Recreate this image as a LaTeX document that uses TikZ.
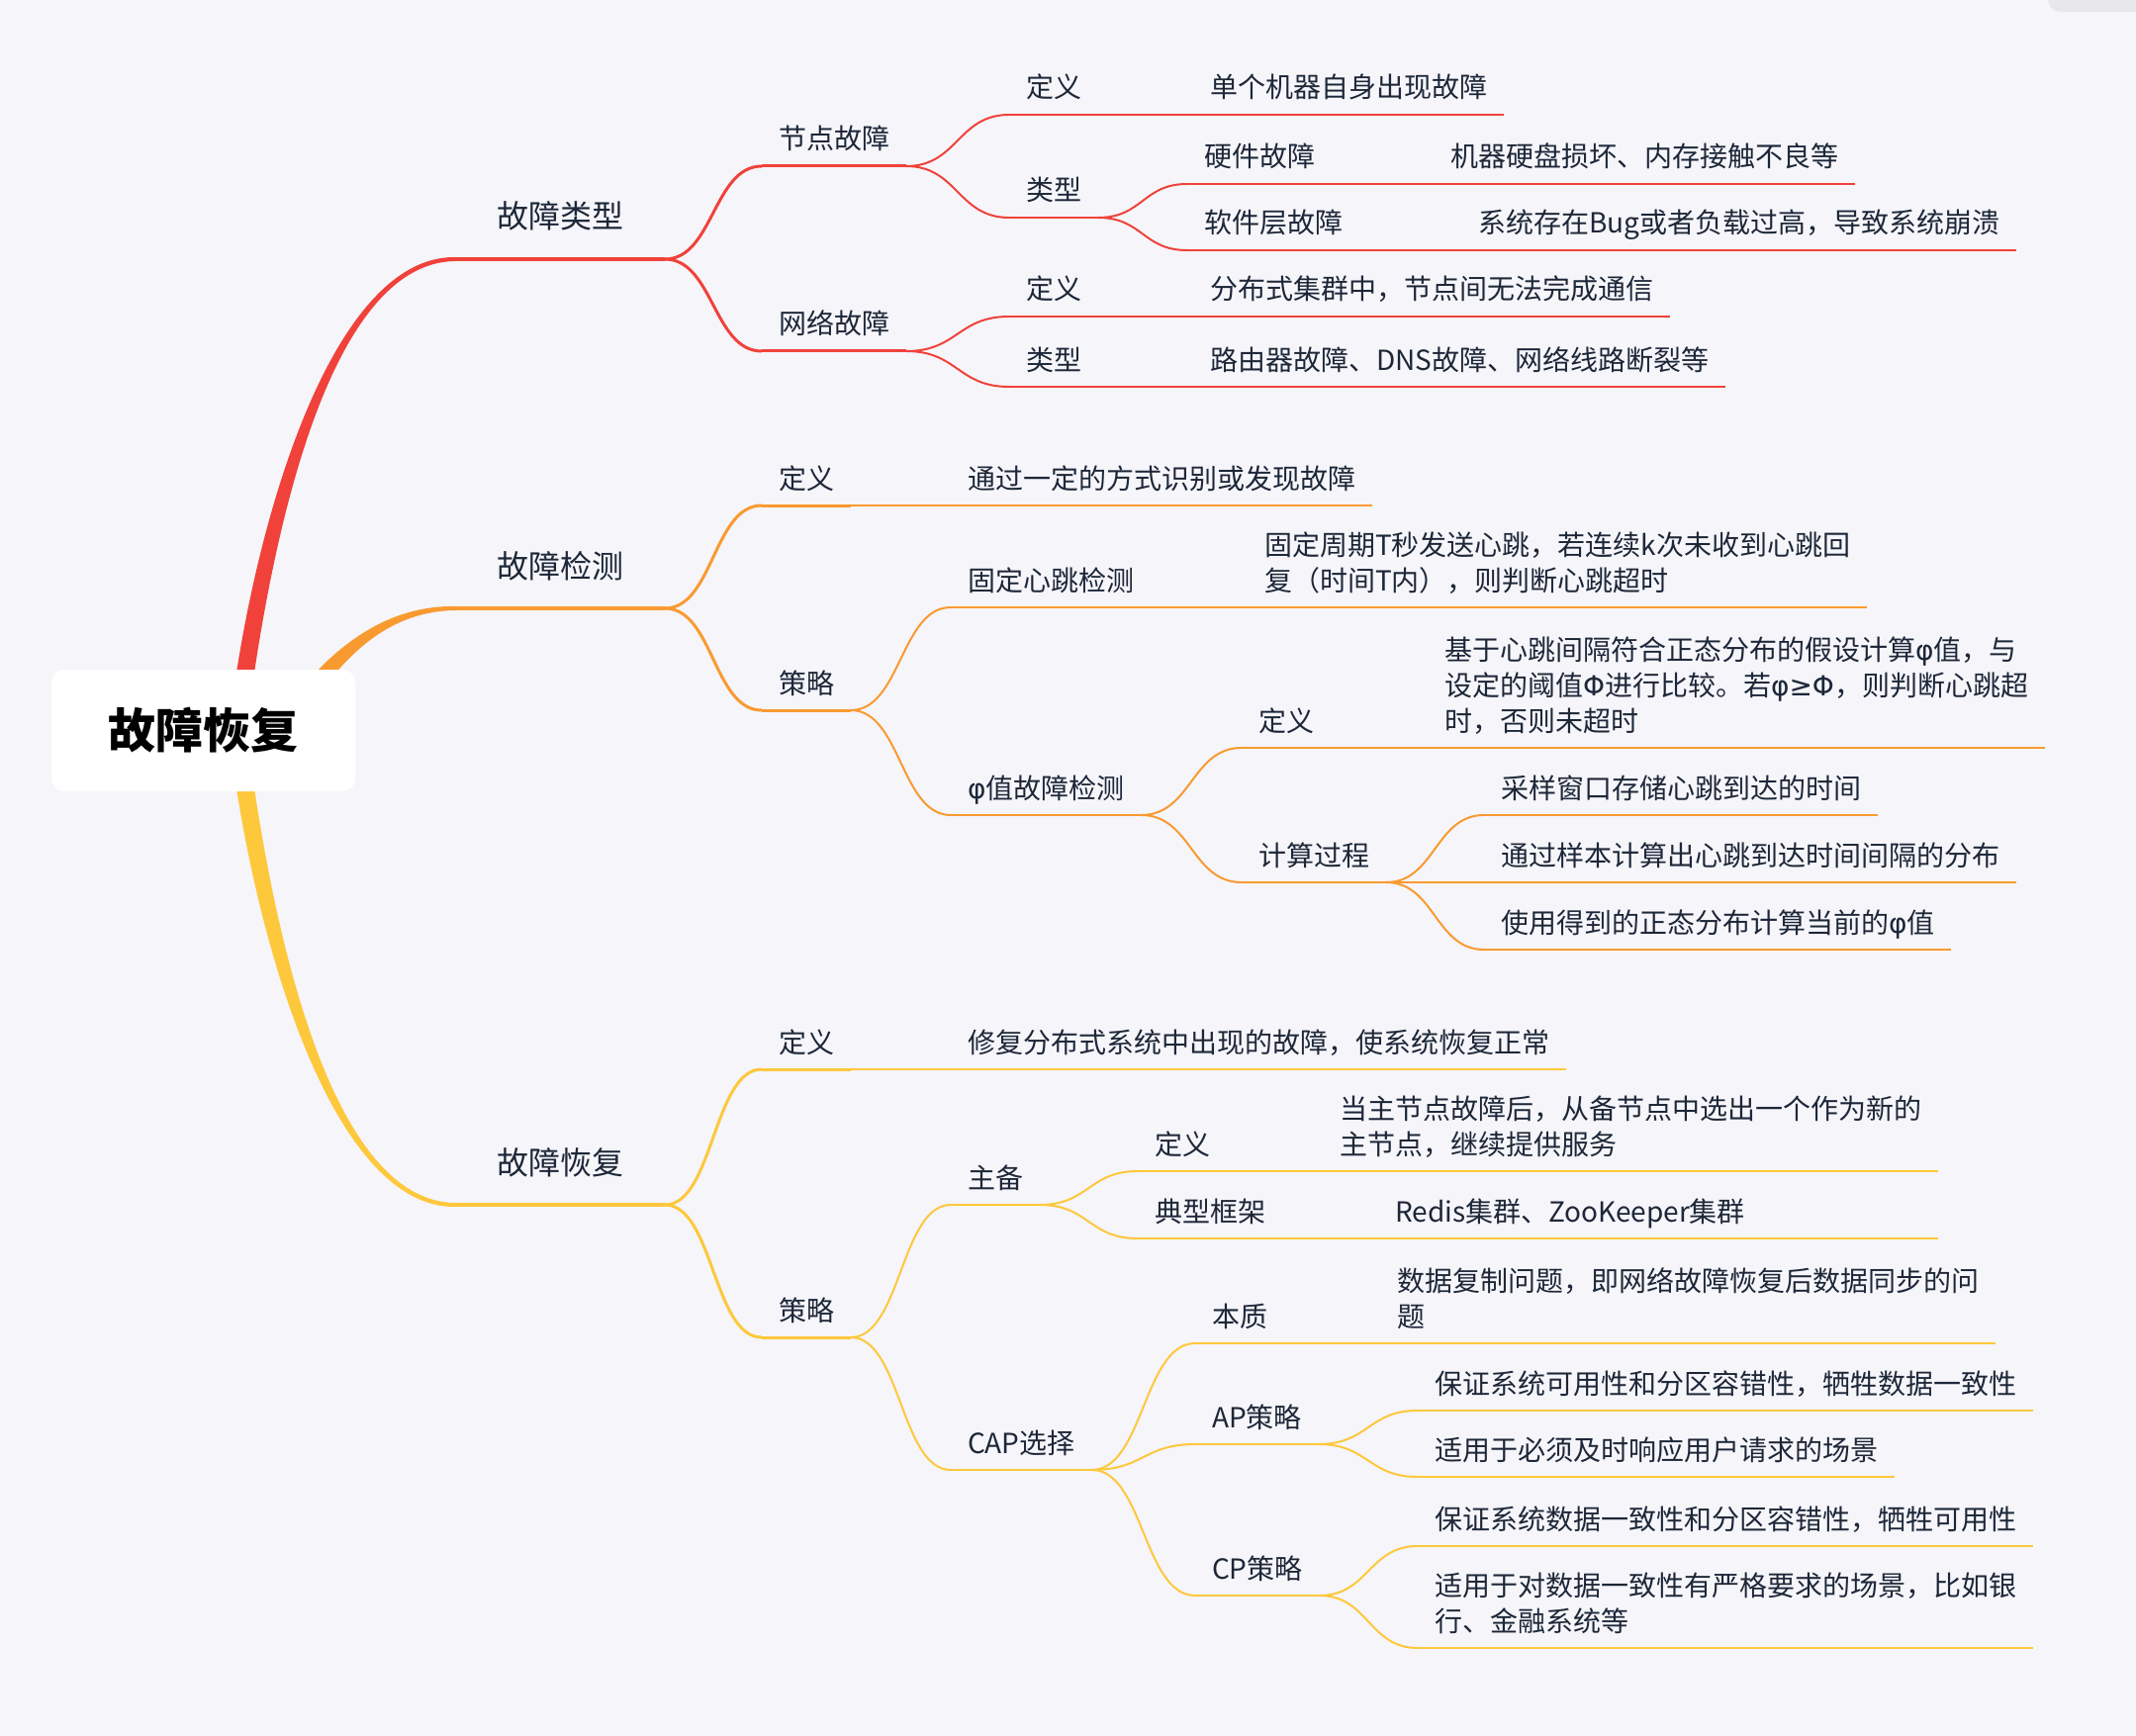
\documentclass[tikz,border=0pt]{standalone}
\usepackage{fontspec}
\setmainfont{Noto Sans CJK SC}
\newfontfamily\grk{DejaVu Sans}
\usetikzlibrary{calc}
\definecolor{cred}{HTML}{F0423A}
\definecolor{corange}{HTML}{F99A30}
\definecolor{cyellow}{HTML}{FEC83C}
\definecolor{ctext}{HTML}{1D2738}
\definecolor{cbg}{HTML}{F5F5FA}
\definecolor{ctab}{HTML}{E8E8EA}
\newcommand{\phiv}{{\grk φ}}
\newcommand{\Phiv}{{\grk Φ}}
\tikzset{
    rootbox/.style={rectangle, rounded corners=6.5pt, fill=white, inner sep=0pt,
        minimum width=153.5pt, minimum height=61.5pt, text=black,
        font=\fontsize{24}{28}\selectfont\bfseries},
    topic/.style={anchor=south west, inner xsep=8.5pt, inner ysep=8.5pt, outer sep=0pt,
        text depth=0pt, text=ctext, font=\fontsize{14}{18}\selectfont},
    main/.style={topic, inner xsep=21pt, inner ysep=15.5pt, font=\fontsize{16}{20}\selectfont},
    leaf/.style={topic, align=left},
    branch/.style={to path={.. controls ($(\tikztostart)!0.5!(\tikztotarget|-\tikztostart)$)
        and ($(\tikztotarget)!0.5!(\tikztostart|-\tikztotarget)$) .. (\tikztotarget)}},
    thick2/.style={line width=1.5pt},
    thick3/.style={line width=1pt},
    thin/.style={line width=0.8pt}
}
\begin{document}
\begin{tikzpicture}[x=0.5pt, y=-0.5pt]
    \useasboundingbox (0,0) rectangle (2159,1755);
    \fill[cbg] (0,0) rectangle (2159,1755);
    \fill[ctab, rounded corners=6.5pt] (2070,-20) rectangle (2200,12);

    % main topics
    \node[main] (ftype) at (460,262) {故障类型};
    \node[main] (fdetect) at (460,615) {故障检测};
    \node[main] (frecover) at (460,1218) {故障恢复};
    \node[rootbox] (root) at (205.5,738.5) {\phantom{故障恢复}};

    % tapered main branches
    \fill[cred] ($(root.center)+(25.5,0)$) .. controls ($(root.center)+(49.5,-208.5)$)
        and ($(ftype.south west)+(-125,-3.5)$) .. ($(ftype.south west)+(0,-2)$)
        -- ($(ftype.south west)+(0,2)$) .. controls ($(ftype.south west)+(-125,3.5)$)
        and ($(root.center)+(69.5,-208.5)$) .. ($(root.center)+(43.5,0)$) -- cycle;
    \fill[corange] ($(root.center)+(77.5,-14)$) .. controls ($(root.center)+(106.5,-55)$)
        and ($(fdetect.south west)+(-90,-3.5)$) .. ($(fdetect.south west)+(0,-2)$)
        -- ($(fdetect.south west)+(0,2)$) .. controls ($(fdetect.south west)+(-90,3.5)$)
        and ($(root.center)+(122.5,-42)$) .. ($(root.center)+(91.5,-3)$) -- cycle;
    \fill[cyellow] ($(root.center)+(25.5,0)$) .. controls ($(root.center)+(49.5,207.5)$)
        and ($(frecover.south west)+(-125,3.5)$) .. ($(frecover.south west)+(0,2)$)
        -- ($(frecover.south west)+(0,-2)$) .. controls ($(frecover.south west)+(-125,-3.5)$)
        and ($(root.center)+(69.5,207.5)$) .. ($(root.center)+(43.5,0)$) -- cycle;
    \node[rootbox] at (root.center) {故障恢复};

    % fault types
    \node[topic] (nd) at (770,168) {节点故障};
    \node[topic] (net) at (770,355) {网络故障};
    \node[topic] (nddef) at (1020,116) {定义};
    \node[leaf] (nddefl) at (1206,116) {单个机器自身出现故障};
    \node[topic] (ndtype) at (1020,220) {类型};
    \node[topic] (hw) at (1200,186) {硬件故障};
    \node[leaf] (hwl) at (1449,186) {机器硬盘损坏、内存接触不良等};
    \node[topic] (sw) at (1200,253) {软件层故障};
    \node[leaf] (swl) at (1477,253) {系统存在Bug或者负载过高，导致系统崩溃};
    \node[topic] (netdef) at (1020,320) {定义};
    \node[leaf] (netdefl) at (1206,320) {分布式集群中，节点间无法完成通信};
    \node[topic] (nettype) at (1020,391) {类型};
    \node[leaf] (nettypel) at (1206,391) {路由器故障、DNS故障、网络线路断裂等};

    % fault detection
    \node[topic] (detdef) at (770,511) {定义};
    \node[leaf] (detdefl) at (961,511) {通过一定的方式识别或发现故障};
    \node[topic] (detstr) at (770,718) {策略};
    \node[topic] (fixed) at (961,614) {固定心跳检测};
    \node[leaf] (fixedl) at (1261,614) {固定周期T秒发送心跳，若连续k次未收到心跳回\\复（时间T内），则判断心跳超时};
    \node[topic] (phi) at (961,824) {\phiv 值故障检测};
    \node[topic] (phidef) at (1255,756) {定义};
    \node[leaf] (phidefl) at (1443,756) {基于心跳间隔符合正态分布的假设计算\phiv 值，与\\设定的阈值\Phiv 进行比较。若\phiv{\grk ≥}\Phiv，则判断心跳超\\时，否则未超时};
    \node[topic] (phicalc) at (1255,892) {计算过程};
    \node[leaf] (calc1) at (1500,824) {采样窗口存储心跳到达的时间};
    \node[leaf] (calc2) at (1500,892) {通过样本计算出心跳到达时间间隔的分布};
    \node[leaf] (calc3) at (1500,960) {使用得到的正态分布计算当前的\phiv 值};

    % fault recovery
    \node[topic] (recdef) at (770,1081) {定义};
    \node[leaf] (recdefl) at (961,1081) {修复分布式系统中出现的故障，使系统恢复正常};
    \node[topic] (recstr) at (770,1352) {策略};
    \node[topic] (ms) at (961,1218) {主备};
    \node[topic] (msdef) at (1150,1184) {定义};
    \node[leaf] (msdefl) at (1337,1184) {当主节点故障后，从备节点中选出一个作为新的\\主节点，继续提供服务};
    \node[topic] (msfw) at (1150,1252) {典型框架};
    \node[leaf] (msfwl) at (1393,1252) {Redis集群、ZooKeeper集群};
    \node[topic] (cap) at (961,1486) {CAP选择};
    \node[topic] (capess) at (1208,1358) {本质};
    \node[leaf] (capessl) at (1395,1358) {数据复制问题，即网络故障恢复后数据同步的问\\题};
    \node[topic] (ap) at (1208,1460) {AP策略};
    \node[leaf] (ap1) at (1433,1426) {保证系统可用性和分区容错性，牺牲数据一致性};
    \node[leaf] (ap2) at (1433,1493) {适用于必须及时响应用户请求的场景};
    \node[topic] (cp) at (1208,1613) {CP策略};
    \node[leaf] (cp1) at (1433,1563) {保证系统数据一致性和分区容错性，牺牲可用性};
    \node[leaf] (cp2) at (1433,1666) {适用于对数据一致性有严格要求的场景，比如银\\行、金融系统等};

    % underlines
    \foreach \n/\c in {ftype/cred, fdetect/corange, frecover/cyellow}
        \draw[\c, line width=2pt] (\n.south west) -- (\n.south east);
    \foreach \n/\c in {nd/cred, net/cred, detdef/corange, detstr/corange, recdef/cyellow, recstr/cyellow}
        \draw[\c, thick2] (\n.south west) -- (\n.south east);
    \foreach \n/\c in {nddef/cred, ndtype/cred, hw/cred, sw/cred, netdef/cred, nettype/cred,
        fixed/corange, phi/corange, phidef/corange, phicalc/corange,
        calc1/corange, calc2/corange, calc3/corange,
        ms/cyellow, msdef/cyellow, msfw/cyellow, cap/cyellow, capess/cyellow,
        ap/cyellow, cp/cyellow, ap1/cyellow, ap2/cyellow, cp1/cyellow, cp2/cyellow}
        \draw[\c, thick3] (\n.south west) -- (\n.south east);
    \foreach \a/\b/\c in {nddef/nddefl/cred, hw/hwl/cred, sw/swl/cred, netdef/netdefl/cred,
        nettype/nettypel/cred, detdef/detdefl/corange, fixed/fixedl/corange,
        phidef/phidefl/corange, recdef/recdefl/cyellow, msdef/msdefl/cyellow,
        capess/capessl/cyellow}
        \draw[\c, thin] (\a.south east) -- (\b.south east);
    \draw[cyellow, thin] (msfw.south east) -- (msdefl.south east |- msfwl.south east);

    % branches
    \foreach \a/\b/\c in {ftype/nd/cred, ftype/net/cred, fdetect/detdef/corange,
        fdetect/detstr/corange, frecover/recdef/cyellow, frecover/recstr/cyellow}
        \draw[\c, thick2] (\a.south east) to[branch] (\b.south west);
    \foreach \a/\b/\c in {nd/nddef/cred, nd/ndtype/cred, ndtype/hw/cred, ndtype/sw/cred,
        net/netdef/cred, net/nettype/cred,
        detstr/fixed/corange, detstr/phi/corange, phi/phidef/corange, phi/phicalc/corange,
        phicalc/calc1/corange, phicalc/calc2/corange, phicalc/calc3/corange,
        recstr/ms/cyellow, recstr/cap/cyellow, ms/msdef/cyellow, ms/msfw/cyellow,
        cap/capess/cyellow, cap/ap/cyellow, cap/cp/cyellow,
        ap/ap1/cyellow, ap/ap2/cyellow, cp/cp1/cyellow, cp/cp2/cyellow}
        \draw[\c, thick3] (\a.south east) to[branch] (\b.south west);
\end{tikzpicture}
\end{document}
